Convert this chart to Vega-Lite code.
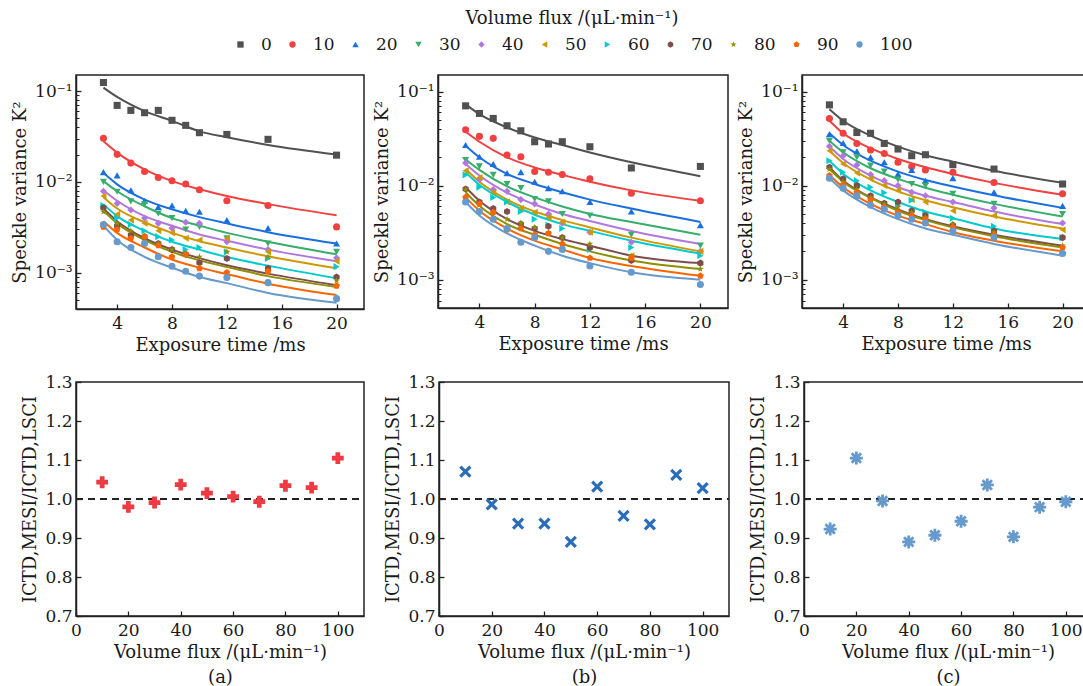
{
  "$schema": "https://vega.github.io/schema/vega-lite/v6.json",
  "padding": {"left": 10, "top": 10, "right": 0, "bottom": 0},
  "background": "white",
  "datasets": {
    "points": [
      {"panel":"a","flux":0,"t":3,"k2":0.124},{"panel":"a","flux":0,"t":4,"k2":0.0695},{"panel":"a","flux":0,"t":5,"k2":0.0612},{"panel":"a","flux":0,"t":6,"k2":0.0577},{"panel":"a","flux":0,"t":7,"k2":0.0612},{"panel":"a","flux":0,"t":8,"k2":0.0476},{"panel":"a","flux":0,"t":9,"k2":0.0419},{"panel":"a","flux":0,"t":10,"k2":0.0348},{"panel":"a","flux":0,"t":12,"k2":0.0333},{"panel":"a","flux":0,"t":15,"k2":0.0294},{"panel":"a","flux":0,"t":20,"k2":0.0197},
      {"panel":"a","flux":10,"t":3,"k2":0.0302},{"panel":"a","flux":10,"t":4,"k2":0.0201},{"panel":"a","flux":10,"t":5,"k2":0.0161},{"panel":"a","flux":10,"t":6,"k2":0.013},{"panel":"a","flux":10,"t":7,"k2":0.0112},{"panel":"a","flux":10,"t":8,"k2":0.0103},{"panel":"a","flux":10,"t":9,"k2":0.0095},{"panel":"a","flux":10,"t":10,"k2":0.0082},{"panel":"a","flux":10,"t":12,"k2":0.0062},{"panel":"a","flux":10,"t":15,"k2":0.0055},{"panel":"a","flux":10,"t":20,"k2":0.0032},
      {"panel":"a","flux":20,"t":3,"k2":0.0128},{"panel":"a","flux":20,"t":4,"k2":0.0118},{"panel":"a","flux":20,"t":5,"k2":0.0081},{"panel":"a","flux":20,"t":6,"k2":0.0062},{"panel":"a","flux":20,"t":7,"k2":0.0053},{"panel":"a","flux":20,"t":8,"k2":0.0055},{"panel":"a","flux":20,"t":9,"k2":0.0048},{"panel":"a","flux":20,"t":10,"k2":0.0047},{"panel":"a","flux":20,"t":12,"k2":0.0038},{"panel":"a","flux":20,"t":15,"k2":0.0031},{"panel":"a","flux":20,"t":20,"k2":0.0021},
      {"panel":"a","flux":30,"t":3,"k2":0.01},{"panel":"a","flux":30,"t":4,"k2":0.0078},{"panel":"a","flux":30,"t":5,"k2":0.0061},{"panel":"a","flux":30,"t":6,"k2":0.0057},{"panel":"a","flux":30,"t":7,"k2":0.0045},{"panel":"a","flux":30,"t":8,"k2":0.004},{"panel":"a","flux":30,"t":9,"k2":0.003},{"panel":"a","flux":30,"t":10,"k2":0.0032},{"panel":"a","flux":30,"t":12,"k2":0.0024},{"panel":"a","flux":30,"t":15,"k2":0.0021},{"panel":"a","flux":30,"t":20,"k2":0.0017},
      {"panel":"a","flux":40,"t":3,"k2":0.0079},{"panel":"a","flux":40,"t":4,"k2":0.0058},{"panel":"a","flux":40,"t":5,"k2":0.0049},{"panel":"a","flux":40,"t":6,"k2":0.004},{"panel":"a","flux":40,"t":7,"k2":0.0035},{"panel":"a","flux":40,"t":8,"k2":0.0031},{"panel":"a","flux":40,"t":9,"k2":0.0036},{"panel":"a","flux":40,"t":10,"k2":0.0035},{"panel":"a","flux":40,"t":12,"k2":0.0022},{"panel":"a","flux":40,"t":15,"k2":0.0018},{"panel":"a","flux":40,"t":20,"k2":0.00146},
      {"panel":"a","flux":50,"t":3,"k2":0.007},{"panel":"a","flux":50,"t":4,"k2":0.0044},{"panel":"a","flux":50,"t":5,"k2":0.0038},{"panel":"a","flux":50,"t":6,"k2":0.0035},{"panel":"a","flux":50,"t":7,"k2":0.0029},{"panel":"a","flux":50,"t":8,"k2":0.00275},{"panel":"a","flux":50,"t":9,"k2":0.0024},{"panel":"a","flux":50,"t":10,"k2":0.0023},{"panel":"a","flux":50,"t":12,"k2":0.0024},{"panel":"a","flux":50,"t":15,"k2":0.0017},{"panel":"a","flux":50,"t":20,"k2":0.00134},
      {"panel":"a","flux":60,"t":3,"k2":0.0055},{"panel":"a","flux":60,"t":4,"k2":0.004},{"panel":"a","flux":60,"t":5,"k2":0.0034},{"panel":"a","flux":60,"t":6,"k2":0.0029},{"panel":"a","flux":60,"t":7,"k2":0.0025},{"panel":"a","flux":60,"t":8,"k2":0.0023},{"panel":"a","flux":60,"t":9,"k2":0.0018},{"panel":"a","flux":60,"t":10,"k2":0.0019},{"panel":"a","flux":60,"t":12,"k2":0.0017},{"panel":"a","flux":60,"t":15,"k2":0.00144},{"panel":"a","flux":60,"t":20,"k2":0.00117},
      {"panel":"a","flux":70,"t":3,"k2":0.0052},{"panel":"a","flux":70,"t":4,"k2":0.0033},{"panel":"a","flux":70,"t":5,"k2":0.0026},{"panel":"a","flux":70,"t":6,"k2":0.0025},{"panel":"a","flux":70,"t":7,"k2":0.0021},{"panel":"a","flux":70,"t":8,"k2":0.0018},{"panel":"a","flux":70,"t":9,"k2":0.0016},{"panel":"a","flux":70,"t":10,"k2":0.00129},{"panel":"a","flux":70,"t":12,"k2":0.00144},{"panel":"a","flux":70,"t":15,"k2":0.00112},{"panel":"a","flux":70,"t":20,"k2":0.0009},
      {"panel":"a","flux":80,"t":3,"k2":0.0047},{"panel":"a","flux":80,"t":4,"k2":0.0035},{"panel":"a","flux":80,"t":5,"k2":0.0029},{"panel":"a","flux":80,"t":6,"k2":0.0022},{"panel":"a","flux":80,"t":7,"k2":0.0021},{"panel":"a","flux":80,"t":8,"k2":0.0018},{"panel":"a","flux":80,"t":9,"k2":0.0016},{"panel":"a","flux":80,"t":10,"k2":0.0015},{"panel":"a","flux":80,"t":12,"k2":0.0017},{"panel":"a","flux":80,"t":15,"k2":0.0015},{"panel":"a","flux":80,"t":20,"k2":0.00082},
      {"panel":"a","flux":90,"t":3,"k2":0.0032},{"panel":"a","flux":90,"t":4,"k2":0.003},{"panel":"a","flux":90,"t":5,"k2":0.0024},{"panel":"a","flux":90,"t":6,"k2":0.0025},{"panel":"a","flux":90,"t":7,"k2":0.002},{"panel":"a","flux":90,"t":8,"k2":0.0015},{"panel":"a","flux":90,"t":9,"k2":0.0016},{"panel":"a","flux":90,"t":10,"k2":0.00112},{"panel":"a","flux":90,"t":12,"k2":0.00101},{"panel":"a","flux":90,"t":15,"k2":0.00104},{"panel":"a","flux":90,"t":20,"k2":0.00072},
      {"panel":"a","flux":100,"t":3,"k2":0.0034},{"panel":"a","flux":100,"t":4,"k2":0.0022},{"panel":"a","flux":100,"t":5,"k2":0.0019},{"panel":"a","flux":100,"t":6,"k2":0.0021},{"panel":"a","flux":100,"t":7,"k2":0.0015},{"panel":"a","flux":100,"t":8,"k2":0.00118},{"panel":"a","flux":100,"t":9,"k2":0.00104},{"panel":"a","flux":100,"t":10,"k2":0.00092},{"panel":"a","flux":100,"t":12,"k2":0.00089},{"panel":"a","flux":100,"t":15,"k2":0.00078},{"panel":"a","flux":100,"t":20,"k2":0.00052},

      {"panel":"b","flux":0,"t":3,"k2":0.0705},{"panel":"b","flux":0,"t":4,"k2":0.0585},{"panel":"b","flux":0,"t":5,"k2":0.0518},{"panel":"b","flux":0,"t":6,"k2":0.0433},{"panel":"b","flux":0,"t":7,"k2":0.0383},{"panel":"b","flux":0,"t":8,"k2":0.0293},{"panel":"b","flux":0,"t":9,"k2":0.0277},{"panel":"b","flux":0,"t":10,"k2":0.0293},{"panel":"b","flux":0,"t":12,"k2":0.0259},{"panel":"b","flux":0,"t":15,"k2":0.0154},{"panel":"b","flux":0,"t":20,"k2":0.016},
      {"panel":"b","flux":10,"t":3,"k2":0.0393},{"panel":"b","flux":10,"t":4,"k2":0.0334},{"panel":"b","flux":10,"t":5,"k2":0.0318},{"panel":"b","flux":10,"t":6,"k2":0.0211},{"panel":"b","flux":10,"t":7,"k2":0.0203},{"panel":"b","flux":10,"t":8,"k2":0.0141},{"panel":"b","flux":10,"t":9,"k2":0.0139},{"panel":"b","flux":10,"t":10,"k2":0.0131},{"panel":"b","flux":10,"t":12,"k2":0.0118},{"panel":"b","flux":10,"t":15,"k2":0.0083},{"panel":"b","flux":10,"t":20,"k2":0.0069},
      {"panel":"b","flux":20,"t":3,"k2":0.027},{"panel":"b","flux":20,"t":4,"k2":0.0203},{"panel":"b","flux":20,"t":5,"k2":0.017},{"panel":"b","flux":20,"t":6,"k2":0.0136},{"panel":"b","flux":20,"t":7,"k2":0.0139},{"panel":"b","flux":20,"t":8,"k2":0.011},{"panel":"b","flux":20,"t":9,"k2":0.0094},{"panel":"b","flux":20,"t":10,"k2":0.0087},{"panel":"b","flux":20,"t":12,"k2":0.0067},{"panel":"b","flux":20,"t":15,"k2":0.0053},{"panel":"b","flux":20,"t":20,"k2":0.0038},
      {"panel":"b","flux":30,"t":3,"k2":0.0187},{"panel":"b","flux":30,"t":4,"k2":0.016},{"panel":"b","flux":30,"t":5,"k2":0.013},{"panel":"b","flux":30,"t":6,"k2":0.0104},{"panel":"b","flux":30,"t":7,"k2":0.0094},{"panel":"b","flux":30,"t":8,"k2":0.0072},{"panel":"b","flux":30,"t":9,"k2":0.0068},{"panel":"b","flux":30,"t":10,"k2":0.005},{"panel":"b","flux":30,"t":12,"k2":0.0048},{"panel":"b","flux":30,"t":15,"k2":0.003},{"panel":"b","flux":30,"t":20,"k2":0.0023},
      {"panel":"b","flux":40,"t":3,"k2":0.0174},{"panel":"b","flux":40,"t":4,"k2":0.0116},{"panel":"b","flux":40,"t":5,"k2":0.0091},{"panel":"b","flux":40,"t":6,"k2":0.0087},{"panel":"b","flux":40,"t":7,"k2":0.0071},{"panel":"b","flux":40,"t":8,"k2":0.0064},{"panel":"b","flux":40,"t":9,"k2":0.005},{"panel":"b","flux":40,"t":10,"k2":0.004},{"panel":"b","flux":40,"t":12,"k2":0.0032},{"panel":"b","flux":40,"t":15,"k2":0.0025},{"panel":"b","flux":40,"t":20,"k2":0.002},
      {"panel":"b","flux":50,"t":3,"k2":0.0144},{"panel":"b","flux":50,"t":4,"k2":0.0122},{"panel":"b","flux":50,"t":5,"k2":0.0085},{"panel":"b","flux":50,"t":6,"k2":0.0067},{"panel":"b","flux":50,"t":7,"k2":0.0057},{"panel":"b","flux":50,"t":8,"k2":0.0052},{"panel":"b","flux":50,"t":9,"k2":0.0046},{"panel":"b","flux":50,"t":10,"k2":0.0041},{"panel":"b","flux":50,"t":12,"k2":0.0032},{"panel":"b","flux":50,"t":15,"k2":0.0018},{"panel":"b","flux":50,"t":20,"k2":0.002},
      {"panel":"b","flux":60,"t":3,"k2":0.013},{"panel":"b","flux":60,"t":4,"k2":0.0096},{"panel":"b","flux":60,"t":5,"k2":0.0075},{"panel":"b","flux":60,"t":6,"k2":0.0067},{"panel":"b","flux":60,"t":7,"k2":0.0053},{"panel":"b","flux":60,"t":8,"k2":0.0044},{"panel":"b","flux":60,"t":9,"k2":0.0038},{"panel":"b","flux":60,"t":10,"k2":0.0035},{"panel":"b","flux":60,"t":12,"k2":0.0021},{"panel":"b","flux":60,"t":15,"k2":0.0022},{"panel":"b","flux":60,"t":20,"k2":0.0018},
      {"panel":"b","flux":70,"t":3,"k2":0.0092},{"panel":"b","flux":70,"t":4,"k2":0.0067},{"panel":"b","flux":70,"t":5,"k2":0.0057},{"panel":"b","flux":70,"t":6,"k2":0.0053},{"panel":"b","flux":70,"t":7,"k2":0.0039},{"panel":"b","flux":70,"t":8,"k2":0.0035},{"panel":"b","flux":70,"t":9,"k2":0.0037},{"panel":"b","flux":70,"t":10,"k2":0.0028},{"panel":"b","flux":70,"t":12,"k2":0.0022},{"panel":"b","flux":70,"t":15,"k2":0.0016},{"panel":"b","flux":70,"t":20,"k2":0.0015},
      {"panel":"b","flux":80,"t":3,"k2":0.0091},{"panel":"b","flux":80,"t":4,"k2":0.0062},{"panel":"b","flux":80,"t":5,"k2":0.0052},{"panel":"b","flux":80,"t":6,"k2":0.0044},{"panel":"b","flux":80,"t":7,"k2":0.004},{"panel":"b","flux":80,"t":8,"k2":0.0036},{"panel":"b","flux":80,"t":9,"k2":0.0032},{"panel":"b","flux":80,"t":10,"k2":0.0028},{"panel":"b","flux":80,"t":12,"k2":0.0024},{"panel":"b","flux":80,"t":15,"k2":0.0018},{"panel":"b","flux":80,"t":20,"k2":0.0013},
      {"panel":"b","flux":90,"t":3,"k2":0.0075},{"panel":"b","flux":90,"t":4,"k2":0.0064},{"panel":"b","flux":90,"t":5,"k2":0.0052},{"panel":"b","flux":90,"t":6,"k2":0.0034},{"panel":"b","flux":90,"t":7,"k2":0.0035},{"panel":"b","flux":90,"t":8,"k2":0.003},{"panel":"b","flux":90,"t":9,"k2":0.0031},{"panel":"b","flux":90,"t":10,"k2":0.0024},{"panel":"b","flux":90,"t":12,"k2":0.0017},{"panel":"b","flux":90,"t":15,"k2":0.0017},{"panel":"b","flux":90,"t":20,"k2":0.0011},
      {"panel":"b","flux":100,"t":3,"k2":0.0067},{"panel":"b","flux":100,"t":4,"k2":0.0053},{"panel":"b","flux":100,"t":5,"k2":0.0044},{"panel":"b","flux":100,"t":6,"k2":0.0035},{"panel":"b","flux":100,"t":7,"k2":0.0025},{"panel":"b","flux":100,"t":8,"k2":0.0028},{"panel":"b","flux":100,"t":9,"k2":0.002},{"panel":"b","flux":100,"t":10,"k2":0.0021},{"panel":"b","flux":100,"t":12,"k2":0.0014},{"panel":"b","flux":100,"t":15,"k2":0.0012},{"panel":"b","flux":100,"t":20,"k2":0.00089},

      {"panel":"c","flux":0,"t":3,"k2":0.0722},{"panel":"c","flux":0,"t":4,"k2":0.0477},{"panel":"c","flux":0,"t":5,"k2":0.0367},{"panel":"c","flux":0,"t":6,"k2":0.036},{"panel":"c","flux":0,"t":7,"k2":0.0281},{"panel":"c","flux":0,"t":8,"k2":0.0245},{"panel":"c","flux":0,"t":9,"k2":0.0208},{"panel":"c","flux":0,"t":10,"k2":0.0213},{"panel":"c","flux":0,"t":12,"k2":0.0167},{"panel":"c","flux":0,"t":15,"k2":0.015},{"panel":"c","flux":0,"t":20,"k2":0.0104},
      {"panel":"c","flux":10,"t":3,"k2":0.0518},{"panel":"c","flux":10,"t":4,"k2":0.036},{"panel":"c","flux":10,"t":5,"k2":0.0281},{"panel":"c","flux":10,"t":6,"k2":0.0239},{"panel":"c","flux":10,"t":7,"k2":0.022},{"panel":"c","flux":10,"t":8,"k2":0.0177},{"panel":"c","flux":10,"t":9,"k2":0.016},{"panel":"c","flux":10,"t":10,"k2":0.0147},{"panel":"c","flux":10,"t":12,"k2":0.0139},{"panel":"c","flux":10,"t":15,"k2":0.0108},{"panel":"c","flux":10,"t":20,"k2":0.0082},
      {"panel":"c","flux":20,"t":3,"k2":0.0353},{"panel":"c","flux":20,"t":4,"k2":0.0284},{"panel":"c","flux":20,"t":5,"k2":0.0232},{"panel":"c","flux":20,"t":6,"k2":0.02},{"panel":"c","flux":20,"t":7,"k2":0.0177},{"panel":"c","flux":20,"t":8,"k2":0.0133},{"panel":"c","flux":20,"t":9,"k2":0.0147},{"panel":"c","flux":20,"t":10,"k2":0.0113},{"panel":"c","flux":20,"t":12,"k2":0.012},{"panel":"c","flux":20,"t":15,"k2":0.0085},{"panel":"c","flux":20,"t":20,"k2":0.0061},
      {"panel":"c","flux":30,"t":3,"k2":0.03},{"panel":"c","flux":30,"t":4,"k2":0.0226},{"panel":"c","flux":30,"t":5,"k2":0.02},{"panel":"c","flux":30,"t":6,"k2":0.0163},{"panel":"c","flux":30,"t":7,"k2":0.0141},{"panel":"c","flux":30,"t":8,"k2":0.0116},{"panel":"c","flux":30,"t":9,"k2":0.0104},{"panel":"c","flux":30,"t":10,"k2":0.01},{"panel":"c","flux":30,"t":12,"k2":0.0082},{"panel":"c","flux":30,"t":15,"k2":0.0064},{"panel":"c","flux":30,"t":20,"k2":0.005},
      {"panel":"c","flux":40,"t":3,"k2":0.0262},{"panel":"c","flux":40,"t":4,"k2":0.0208},{"panel":"c","flux":40,"t":5,"k2":0.0166},{"panel":"c","flux":40,"t":6,"k2":0.0131},{"panel":"c","flux":40,"t":7,"k2":0.0113},{"panel":"c","flux":40,"t":8,"k2":0.01},{"panel":"c","flux":40,"t":9,"k2":0.0085},{"panel":"c","flux":40,"t":10,"k2":0.0078},{"panel":"c","flux":40,"t":12,"k2":0.0067},{"panel":"c","flux":40,"t":15,"k2":0.0058},{"panel":"c","flux":40,"t":20,"k2":0.004},
      {"panel":"c","flux":50,"t":3,"k2":0.0235},{"panel":"c","flux":50,"t":4,"k2":0.017},{"panel":"c","flux":50,"t":5,"k2":0.0136},{"panel":"c","flux":50,"t":6,"k2":0.0118},{"panel":"c","flux":50,"t":7,"k2":0.01},{"panel":"c","flux":50,"t":8,"k2":0.0089},{"panel":"c","flux":50,"t":9,"k2":0.0071},{"panel":"c","flux":50,"t":10,"k2":0.0067},{"panel":"c","flux":50,"t":12,"k2":0.0054},{"panel":"c","flux":50,"t":15,"k2":0.0048},{"panel":"c","flux":50,"t":20,"k2":0.0034},
      {"panel":"c","flux":60,"t":3,"k2":0.0184},{"panel":"c","flux":60,"t":4,"k2":0.0139},{"panel":"c","flux":60,"t":5,"k2":0.0113},{"panel":"c","flux":60,"t":6,"k2":0.0096},{"panel":"c","flux":60,"t":7,"k2":0.0084},{"panel":"c","flux":60,"t":8,"k2":0.0062},{"panel":"c","flux":60,"t":9,"k2":0.007},{"panel":"c","flux":60,"t":10,"k2":0.0052},{"panel":"c","flux":60,"t":12,"k2":0.0045},{"panel":"c","flux":60,"t":15,"k2":0.0037},{"panel":"c","flux":60,"t":20,"k2":0.0028},
      {"panel":"c","flux":70,"t":3,"k2":0.0157},{"panel":"c","flux":70,"t":4,"k2":0.0118},{"panel":"c","flux":70,"t":5,"k2":0.01},{"panel":"c","flux":70,"t":6,"k2":0.0078},{"panel":"c","flux":70,"t":7,"k2":0.0065},{"panel":"c","flux":70,"t":8,"k2":0.0067},{"panel":"c","flux":70,"t":9,"k2":0.0054},{"panel":"c","flux":70,"t":10,"k2":0.0048},{"panel":"c","flux":70,"t":12,"k2":0.0038},{"panel":"c","flux":70,"t":15,"k2":0.0033},{"panel":"c","flux":70,"t":20,"k2":0.0028},
      {"panel":"c","flux":80,"t":3,"k2":0.015},{"panel":"c","flux":80,"t":4,"k2":0.011},{"panel":"c","flux":80,"t":5,"k2":0.0092},{"panel":"c","flux":80,"t":6,"k2":0.0075},{"panel":"c","flux":80,"t":7,"k2":0.0064},{"panel":"c","flux":80,"t":8,"k2":0.0059},{"panel":"c","flux":80,"t":9,"k2":0.0052},{"panel":"c","flux":80,"t":10,"k2":0.0046},{"panel":"c","flux":80,"t":12,"k2":0.0039},{"panel":"c","flux":80,"t":15,"k2":0.0032},{"panel":"c","flux":80,"t":20,"k2":0.0023},
      {"panel":"c","flux":90,"t":3,"k2":0.0128},{"panel":"c","flux":90,"t":4,"k2":0.0102},{"panel":"c","flux":90,"t":5,"k2":0.0085},{"panel":"c","flux":90,"t":6,"k2":0.0071},{"panel":"c","flux":90,"t":7,"k2":0.0059},{"panel":"c","flux":90,"t":8,"k2":0.0052},{"panel":"c","flux":90,"t":9,"k2":0.0048},{"panel":"c","flux":90,"t":10,"k2":0.0044},{"panel":"c","flux":90,"t":12,"k2":0.0036},{"panel":"c","flux":90,"t":15,"k2":0.003},{"panel":"c","flux":90,"t":20,"k2":0.0022},
      {"panel":"c","flux":100,"t":3,"k2":0.012},{"panel":"c","flux":100,"t":4,"k2":0.0094},{"panel":"c","flux":100,"t":5,"k2":0.0078},{"panel":"c","flux":100,"t":6,"k2":0.0062},{"panel":"c","flux":100,"t":7,"k2":0.0056},{"panel":"c","flux":100,"t":8,"k2":0.0048},{"panel":"c","flux":100,"t":9,"k2":0.0044},{"panel":"c","flux":100,"t":10,"k2":0.004},{"panel":"c","flux":100,"t":12,"k2":0.0033},{"panel":"c","flux":100,"t":15,"k2":0.0028},{"panel":"c","flux":100,"t":20,"k2":0.0019}
    ],
    "fits": [
      {"panel":"a","flux":0,"t":3,"fit":0.109},{"panel":"a","flux":0,"t":4,"fit":0.086},{"panel":"a","flux":0,"t":6,"fit":0.06},{"panel":"a","flux":0,"t":8,"fit":0.047},{"panel":"a","flux":0,"t":10,"fit":0.036},{"panel":"a","flux":0,"t":12,"fit":0.031},{"panel":"a","flux":0,"t":15,"fit":0.0255},{"panel":"a","flux":0,"t":20,"fit":0.02},
      {"panel":"a","flux":10,"t":3,"fit":0.028},{"panel":"a","flux":10,"t":4,"fit":0.021},{"panel":"a","flux":10,"t":6,"fit":0.0137},{"panel":"a","flux":10,"t":8,"fit":0.0102},{"panel":"a","flux":10,"t":10,"fit":0.0083},{"panel":"a","flux":10,"t":12,"fit":0.007},{"panel":"a","flux":10,"t":15,"fit":0.0057},{"panel":"a","flux":10,"t":20,"fit":0.0043},
      {"panel":"a","flux":20,"t":3,"fit":0.0126},{"panel":"a","flux":20,"t":4,"fit":0.0094},{"panel":"a","flux":20,"t":6,"fit":0.0064},{"panel":"a","flux":20,"t":8,"fit":0.005},{"panel":"a","flux":20,"t":10,"fit":0.0041},{"panel":"a","flux":20,"t":12,"fit":0.0035},{"panel":"a","flux":20,"t":15,"fit":0.0028},{"panel":"a","flux":20,"t":20,"fit":0.0021},
      {"panel":"a","flux":30,"t":3,"fit":0.0102},{"panel":"a","flux":30,"t":4,"fit":0.0079},{"panel":"a","flux":30,"t":6,"fit":0.0054},{"panel":"a","flux":30,"t":8,"fit":0.004},{"panel":"a","flux":30,"t":10,"fit":0.0033},{"panel":"a","flux":30,"t":12,"fit":0.00275},{"panel":"a","flux":30,"t":15,"fit":0.0022},{"panel":"a","flux":30,"t":20,"fit":0.0016},
      {"panel":"a","flux":40,"t":3,"fit":0.0081},{"panel":"a","flux":40,"t":4,"fit":0.0062},{"panel":"a","flux":40,"t":6,"fit":0.0042},{"panel":"a","flux":40,"t":8,"fit":0.0033},{"panel":"a","flux":40,"t":10,"fit":0.00264},{"panel":"a","flux":40,"t":12,"fit":0.00225},{"panel":"a","flux":40,"t":15,"fit":0.0018},{"panel":"a","flux":40,"t":20,"fit":0.00134},
      {"panel":"a","flux":50,"t":3,"fit":0.0068},{"panel":"a","flux":50,"t":4,"fit":0.0051},{"panel":"a","flux":50,"t":6,"fit":0.0036},{"panel":"a","flux":50,"t":8,"fit":0.00275},{"panel":"a","flux":50,"t":10,"fit":0.00223},{"panel":"a","flux":50,"t":12,"fit":0.0019},{"panel":"a","flux":50,"t":15,"fit":0.00152},{"panel":"a","flux":50,"t":20,"fit":0.00112},
      {"panel":"a","flux":60,"t":3,"fit":0.0057},{"panel":"a","flux":60,"t":4,"fit":0.0042},{"panel":"a","flux":60,"t":6,"fit":0.0029},{"panel":"a","flux":60,"t":8,"fit":0.0022},{"panel":"a","flux":60,"t":10,"fit":0.0018},{"panel":"a","flux":60,"t":12,"fit":0.00149},{"panel":"a","flux":60,"t":15,"fit":0.0012},{"panel":"a","flux":60,"t":20,"fit":0.00087},
      {"panel":"a","flux":70,"t":3,"fit":0.0051},{"panel":"a","flux":70,"t":4,"fit":0.0037},{"panel":"a","flux":70,"t":6,"fit":0.0024},{"panel":"a","flux":70,"t":8,"fit":0.0018},{"panel":"a","flux":70,"t":10,"fit":0.00145},{"panel":"a","flux":70,"t":12,"fit":0.00121},{"panel":"a","flux":70,"t":15,"fit":0.00098},{"panel":"a","flux":70,"t":20,"fit":0.00073},
      {"panel":"a","flux":80,"t":3,"fit":0.0048},{"panel":"a","flux":80,"t":4,"fit":0.0035},{"panel":"a","flux":80,"t":6,"fit":0.0023},{"panel":"a","flux":80,"t":8,"fit":0.0017},{"panel":"a","flux":80,"t":10,"fit":0.00137},{"panel":"a","flux":80,"t":12,"fit":0.00116},{"panel":"a","flux":80,"t":15,"fit":0.00092},{"panel":"a","flux":80,"t":20,"fit":0.0007},
      {"panel":"a","flux":90,"t":3,"fit":0.0037},{"panel":"a","flux":90,"t":4,"fit":0.00275},{"panel":"a","flux":90,"t":6,"fit":0.0019},{"panel":"a","flux":90,"t":8,"fit":0.0014},{"panel":"a","flux":90,"t":10,"fit":0.00114},{"panel":"a","flux":90,"t":12,"fit":0.00097},{"panel":"a","flux":90,"t":15,"fit":0.00076},{"panel":"a","flux":90,"t":20,"fit":0.00057},
      {"panel":"a","flux":100,"t":3,"fit":0.0033},{"panel":"a","flux":100,"t":4,"fit":0.0023},{"panel":"a","flux":100,"t":6,"fit":0.0015},{"panel":"a","flux":100,"t":8,"fit":0.00114},{"panel":"a","flux":100,"t":10,"fit":0.0009},{"panel":"a","flux":100,"t":12,"fit":0.00077},{"panel":"a","flux":100,"t":15,"fit":0.0006},{"panel":"a","flux":100,"t":20,"fit":0.00047},

      {"panel":"b","flux":0,"t":3,"fit":0.073},{"panel":"b","flux":0,"t":4,"fit":0.0575},{"panel":"b","flux":0,"t":6,"fit":0.0415},{"panel":"b","flux":0,"t":8,"fit":0.0325},{"panel":"b","flux":0,"t":10,"fit":0.027},{"panel":"b","flux":0,"t":12,"fit":0.0225},{"panel":"b","flux":0,"t":15,"fit":0.0177},{"panel":"b","flux":0,"t":20,"fit":0.0126},
      {"panel":"b","flux":10,"t":3,"fit":0.0374},{"panel":"b","flux":10,"t":4,"fit":0.0293},{"panel":"b","flux":10,"t":6,"fit":0.02},{"panel":"b","flux":10,"t":8,"fit":0.0156},{"panel":"b","flux":10,"t":10,"fit":0.013},{"panel":"b","flux":10,"t":12,"fit":0.011},{"panel":"b","flux":10,"t":15,"fit":0.0089},{"panel":"b","flux":10,"t":20,"fit":0.0069},
      {"panel":"b","flux":20,"t":3,"fit":0.0266},{"panel":"b","flux":20,"t":4,"fit":0.02},{"panel":"b","flux":20,"t":6,"fit":0.0133},{"panel":"b","flux":20,"t":8,"fit":0.0104},{"panel":"b","flux":20,"t":10,"fit":0.0085},{"panel":"b","flux":20,"t":12,"fit":0.0071},{"panel":"b","flux":20,"t":15,"fit":0.0057},{"panel":"b","flux":20,"t":20,"fit":0.0041},
      {"panel":"b","flux":30,"t":3,"fit":0.019},{"panel":"b","flux":30,"t":4,"fit":0.0147},{"panel":"b","flux":30,"t":6,"fit":0.0098},{"panel":"b","flux":30,"t":8,"fit":0.0075},{"panel":"b","flux":30,"t":10,"fit":0.006},{"panel":"b","flux":30,"t":12,"fit":0.005},{"panel":"b","flux":30,"t":15,"fit":0.0041},{"panel":"b","flux":30,"t":20,"fit":0.003},
      {"panel":"b","flux":40,"t":3,"fit":0.017},{"panel":"b","flux":40,"t":4,"fit":0.0128},{"panel":"b","flux":40,"t":6,"fit":0.0084},{"panel":"b","flux":40,"t":8,"fit":0.0063},{"panel":"b","flux":40,"t":10,"fit":0.005},{"panel":"b","flux":40,"t":12,"fit":0.0042},{"panel":"b","flux":40,"t":15,"fit":0.0033},{"panel":"b","flux":40,"t":20,"fit":0.0024},
      {"panel":"b","flux":50,"t":3,"fit":0.015},{"panel":"b","flux":50,"t":4,"fit":0.011},{"panel":"b","flux":50,"t":6,"fit":0.0071},{"panel":"b","flux":50,"t":8,"fit":0.0053},{"panel":"b","flux":50,"t":10,"fit":0.0043},{"panel":"b","flux":50,"t":12,"fit":0.0036},{"panel":"b","flux":50,"t":15,"fit":0.0028},{"panel":"b","flux":50,"t":20,"fit":0.002},
      {"panel":"b","flux":60,"t":3,"fit":0.0139},{"panel":"b","flux":60,"t":4,"fit":0.0102},{"panel":"b","flux":60,"t":6,"fit":0.0067},{"panel":"b","flux":60,"t":8,"fit":0.0049},{"panel":"b","flux":60,"t":10,"fit":0.0039},{"panel":"b","flux":60,"t":12,"fit":0.0033},{"panel":"b","flux":60,"t":15,"fit":0.0026},{"panel":"b","flux":60,"t":20,"fit":0.0019},
      {"panel":"b","flux":70,"t":3,"fit":0.0096},{"panel":"b","flux":70,"t":4,"fit":0.0069},{"panel":"b","flux":70,"t":6,"fit":0.0044},{"panel":"b","flux":70,"t":8,"fit":0.0033},{"panel":"b","flux":70,"t":10,"fit":0.0027},{"panel":"b","flux":70,"t":12,"fit":0.0023},{"panel":"b","flux":70,"t":15,"fit":0.0018},{"panel":"b","flux":70,"t":20,"fit":0.0015},
      {"panel":"b","flux":80,"t":3,"fit":0.0085},{"panel":"b","flux":80,"t":4,"fit":0.0061},{"panel":"b","flux":80,"t":6,"fit":0.0039},{"panel":"b","flux":80,"t":8,"fit":0.003},{"panel":"b","flux":80,"t":10,"fit":0.0024},{"panel":"b","flux":80,"t":12,"fit":0.002},{"panel":"b","flux":80,"t":15,"fit":0.0016},{"panel":"b","flux":80,"t":20,"fit":0.0013},
      {"panel":"b","flux":90,"t":3,"fit":0.0075},{"panel":"b","flux":90,"t":4,"fit":0.0054},{"panel":"b","flux":90,"t":6,"fit":0.0035},{"panel":"b","flux":90,"t":8,"fit":0.0026},{"panel":"b","flux":90,"t":10,"fit":0.0021},{"panel":"b","flux":90,"t":12,"fit":0.0017},{"panel":"b","flux":90,"t":15,"fit":0.0014},{"panel":"b","flux":90,"t":20,"fit":0.0011},
      {"panel":"b","flux":100,"t":3,"fit":0.0067},{"panel":"b","flux":100,"t":4,"fit":0.0048},{"panel":"b","flux":100,"t":6,"fit":0.0031},{"panel":"b","flux":100,"t":8,"fit":0.0023},{"panel":"b","flux":100,"t":10,"fit":0.0018},{"panel":"b","flux":100,"t":12,"fit":0.0015},{"panel":"b","flux":100,"t":15,"fit":0.0012},{"panel":"b","flux":100,"t":20,"fit":0.001},

      {"panel":"c","flux":0,"t":3,"fit":0.065},{"panel":"c","flux":0,"t":4,"fit":0.049},{"panel":"c","flux":0,"t":6,"fit":0.034},{"panel":"c","flux":0,"t":8,"fit":0.026},{"panel":"c","flux":0,"t":10,"fit":0.021},{"panel":"c","flux":0,"t":12,"fit":0.018},{"panel":"c","flux":0,"t":15,"fit":0.0144},{"panel":"c","flux":0,"t":20,"fit":0.0107},
      {"panel":"c","flux":10,"t":3,"fit":0.049},{"panel":"c","flux":10,"t":4,"fit":0.036},{"panel":"c","flux":10,"t":6,"fit":0.025},{"panel":"c","flux":10,"t":8,"fit":0.0192},{"panel":"c","flux":10,"t":10,"fit":0.0157},{"panel":"c","flux":10,"t":12,"fit":0.0133},{"panel":"c","flux":10,"t":15,"fit":0.0107},{"panel":"c","flux":10,"t":20,"fit":0.008},
      {"panel":"c","flux":20,"t":3,"fit":0.036},{"panel":"c","flux":20,"t":4,"fit":0.027},{"panel":"c","flux":20,"t":6,"fit":0.0184},{"panel":"c","flux":20,"t":8,"fit":0.0141},{"panel":"c","flux":20,"t":10,"fit":0.0115},{"panel":"c","flux":20,"t":12,"fit":0.0098},{"panel":"c","flux":20,"t":15,"fit":0.0079},{"panel":"c","flux":20,"t":20,"fit":0.0058},
      {"panel":"c","flux":30,"t":3,"fit":0.03},{"panel":"c","flux":30,"t":4,"fit":0.0226},{"panel":"c","flux":30,"t":6,"fit":0.0153},{"panel":"c","flux":30,"t":8,"fit":0.0118},{"panel":"c","flux":30,"t":10,"fit":0.0095},{"panel":"c","flux":30,"t":12,"fit":0.008},{"panel":"c","flux":30,"t":15,"fit":0.0064},{"panel":"c","flux":30,"t":20,"fit":0.0047},
      {"panel":"c","flux":40,"t":3,"fit":0.026},{"panel":"c","flux":40,"t":4,"fit":0.0192},{"panel":"c","flux":40,"t":6,"fit":0.0128},{"panel":"c","flux":40,"t":8,"fit":0.0096},{"panel":"c","flux":40,"t":10,"fit":0.0078},{"panel":"c","flux":40,"t":12,"fit":0.0067},{"panel":"c","flux":40,"t":15,"fit":0.0053},{"panel":"c","flux":40,"t":20,"fit":0.0039},
      {"panel":"c","flux":50,"t":3,"fit":0.0235},{"panel":"c","flux":50,"t":4,"fit":0.0174},{"panel":"c","flux":50,"t":6,"fit":0.0116},{"panel":"c","flux":50,"t":8,"fit":0.0087},{"panel":"c","flux":50,"t":10,"fit":0.007},{"panel":"c","flux":50,"t":12,"fit":0.0059},{"panel":"c","flux":50,"t":15,"fit":0.0047},{"panel":"c","flux":50,"t":20,"fit":0.0035},
      {"panel":"c","flux":60,"t":3,"fit":0.0184},{"panel":"c","flux":60,"t":4,"fit":0.0134},{"panel":"c","flux":60,"t":6,"fit":0.0089},{"panel":"c","flux":60,"t":8,"fit":0.0067},{"panel":"c","flux":60,"t":10,"fit":0.0053},{"panel":"c","flux":60,"t":12,"fit":0.0045},{"panel":"c","flux":60,"t":15,"fit":0.0035},{"panel":"c","flux":60,"t":20,"fit":0.0027},
      {"panel":"c","flux":70,"t":3,"fit":0.0157},{"panel":"c","flux":70,"t":4,"fit":0.0113},{"panel":"c","flux":70,"t":6,"fit":0.0075},{"panel":"c","flux":70,"t":8,"fit":0.0056},{"panel":"c","flux":70,"t":10,"fit":0.0044},{"panel":"c","flux":70,"t":12,"fit":0.0037},{"panel":"c","flux":70,"t":15,"fit":0.003},{"panel":"c","flux":70,"t":20,"fit":0.0023},
      {"panel":"c","flux":80,"t":3,"fit":0.015},{"panel":"c","flux":80,"t":4,"fit":0.011},{"panel":"c","flux":80,"t":6,"fit":0.0074},{"panel":"c","flux":80,"t":8,"fit":0.0054},{"panel":"c","flux":80,"t":10,"fit":0.0043},{"panel":"c","flux":80,"t":12,"fit":0.0036},{"panel":"c","flux":80,"t":15,"fit":0.0029},{"panel":"c","flux":80,"t":20,"fit":0.0022},
      {"panel":"c","flux":90,"t":3,"fit":0.013},{"panel":"c","flux":90,"t":4,"fit":0.0096},{"panel":"c","flux":90,"t":6,"fit":0.0064},{"panel":"c","flux":90,"t":8,"fit":0.0048},{"panel":"c","flux":90,"t":10,"fit":0.0039},{"panel":"c","flux":90,"t":12,"fit":0.0032},{"panel":"c","flux":90,"t":15,"fit":0.0026},{"panel":"c","flux":90,"t":20,"fit":0.002},
      {"panel":"c","flux":100,"t":3,"fit":0.012},{"panel":"c","flux":100,"t":4,"fit":0.0089},{"panel":"c","flux":100,"t":6,"fit":0.0059},{"panel":"c","flux":100,"t":8,"fit":0.0044},{"panel":"c","flux":100,"t":10,"fit":0.0035},{"panel":"c","flux":100,"t":12,"fit":0.003},{"panel":"c","flux":100,"t":15,"fit":0.0024},{"panel":"c","flux":100,"t":20,"fit":0.0018}
    ],
    "ratios": [
      {"panel":"a","flux":10,"ratio":1.043},{"panel":"a","flux":20,"ratio":0.98},{"panel":"a","flux":30,"ratio":0.991},{"panel":"a","flux":40,"ratio":1.037},{"panel":"a","flux":50,"ratio":1.015},{"panel":"a","flux":60,"ratio":1.006},{"panel":"a","flux":70,"ratio":0.993},{"panel":"a","flux":80,"ratio":1.034},{"panel":"a","flux":90,"ratio":1.029},{"panel":"a","flux":100,"ratio":1.105},
      {"panel":"b","flux":10,"ratio":1.07},{"panel":"b","flux":20,"ratio":0.986},{"panel":"b","flux":30,"ratio":0.937},{"panel":"b","flux":40,"ratio":0.937},{"panel":"b","flux":50,"ratio":0.89},{"panel":"b","flux":60,"ratio":1.032},{"panel":"b","flux":70,"ratio":0.957},{"panel":"b","flux":80,"ratio":0.935},{"panel":"b","flux":90,"ratio":1.062},{"panel":"b","flux":100,"ratio":1.028},
      {"panel":"c","flux":10,"ratio":0.923},{"panel":"c","flux":20,"ratio":1.105},{"panel":"c","flux":30,"ratio":0.995},{"panel":"c","flux":40,"ratio":0.89},{"panel":"c","flux":50,"ratio":0.907},{"panel":"c","flux":60,"ratio":0.943},{"panel":"c","flux":70,"ratio":1.036},{"panel":"c","flux":80,"ratio":0.903},{"panel":"c","flux":90,"ratio":0.979},{"panel":"c","flux":100,"ratio":0.993}
    ],
    "reference": [{"ratio": 1.0}]
  },
  "vconcat": [
    {
      "hconcat": [
        {
          "width": 288, "height": 234,
          "resolve": {"scale": {"y": "shared"}, "axis": {"y": "independent"}},
          "layer": [
            {
              "data": {"name": "fits"},
              "transform": [{"filter": "datum.panel === 'a'"}],
              "mark": {"type": "line", "interpolate": "monotone", "strokeWidth": 2, "clip": true},
              "encoding": {
                "x": {"field": "t", "type": "quantitative", "scale": {"domain": [1, 22], "nice": false}, "axis": {"values": [4, 8, 12, 16, 20], "title": "Exposure time /ms"}},
                "y": {"field": "fit", "type": "quantitative", "scale": {"type": "log", "domain": [0.0004, 0.15], "nice": false}, "axis": {"values": [0.001, 0.01, 0.1], "labelExpr": "datum.value > 0.05 ? '10⁻¹' : datum.value > 0.005 ? '10⁻²' : '10⁻³'", "title": "Speckle variance K²"}},
                "stroke": {"field": "flux", "type": "ordinal", "scale": {"range": ["#515151", "#F14040", "#1A6FDF", "#37AD6B", "#B177DE", "#CC9900", "#00CBCC", "#7D4E4E", "#8E8E00", "#FB6501", "#6699CC"]}, "legend": null}
              }
            },
            {
              "data": {"name": "points"},
              "transform": [{"filter": "datum.panel === 'a'"}],
              "mark": {"type": "point", "filled": true, "size": 50, "opacity": 1},
              "encoding": {
                "x": {"field": "t", "type": "quantitative"},
                "y": {"field": "k2", "type": "quantitative", "axis": {"orient": "left", "values": [0.0004, 0.0005, 0.0006, 0.0007, 0.0008, 0.0009, 0.002, 0.003, 0.004, 0.005, 0.006, 0.007, 0.008, 0.009, 0.02, 0.03, 0.04, 0.05, 0.06, 0.07, 0.08, 0.09], "labels": false, "domain": false, "title": null, "tickSize": -3, "tickWidth": 1}},
                "color": {"field": "flux", "type": "ordinal", "title": "Volume flux /(μL·min⁻¹)", "scale": {"range": ["#515151", "#F14040", "#1A6FDF", "#37AD6B", "#B177DE", "#CC9900", "#00CBCC", "#7D4E4E", "#8E8E00", "#FB6501", "#6699CC"]}},
                "shape": {"field": "flux", "type": "ordinal", "title": "Volume flux /(μL·min⁻¹)", "scale": {"range": ["square", "circle", "triangle-up", "triangle-down", "diamond", "triangle-left", "triangle-right", "M0,-1L0.866,-0.5L0.866,0.5L0,1L-0.866,0.5L-0.866,-0.5Z", "M0,-1L0.235,-0.324L0.951,-0.309L0.38,0.124L0.588,0.809L0,0.4L-0.588,0.809L-0.38,0.124L-0.951,-0.309L-0.235,-0.324Z", "M0,-1L0.951,-0.309L0.588,0.809L-0.588,0.809L-0.951,-0.309Z", "circle"]}}
              }
            }
          ]
        },
        {
          "width": 290, "height": 233,
          "resolve": {"scale": {"y": "shared"}, "axis": {"y": "independent"}},
          "layer": [
            {
              "data": {"name": "fits"},
              "transform": [{"filter": "datum.panel === 'b'"}],
              "mark": {"type": "line", "interpolate": "monotone", "strokeWidth": 2, "clip": true},
              "encoding": {
                "x": {"field": "t", "type": "quantitative", "scale": {"domain": [1, 22], "nice": false}, "axis": {"values": [4, 8, 12, 16, 20], "title": "Exposure time /ms"}},
                "y": {"field": "fit", "type": "quantitative", "scale": {"type": "log", "domain": [0.0005, 0.15], "nice": false}, "axis": {"values": [0.001, 0.01, 0.1], "labelExpr": "datum.value > 0.05 ? '10⁻¹' : datum.value > 0.005 ? '10⁻²' : '10⁻³'", "title": "Speckle variance K²"}},
                "stroke": {"field": "flux", "type": "ordinal", "legend": null}
              }
            },
            {
              "data": {"name": "points"},
              "transform": [{"filter": "datum.panel === 'b'"}],
              "mark": {"type": "point", "filled": true, "size": 50, "opacity": 1},
              "encoding": {
                "x": {"field": "t", "type": "quantitative"},
                "y": {"field": "k2", "type": "quantitative", "axis": {"orient": "left", "values": [0.0005, 0.0006, 0.0007, 0.0008, 0.0009, 0.002, 0.003, 0.004, 0.005, 0.006, 0.007, 0.008, 0.009, 0.02, 0.03, 0.04, 0.05, 0.06, 0.07, 0.08, 0.09], "labels": false, "domain": false, "title": null, "tickSize": -3, "tickWidth": 1}},
                "color": {"field": "flux", "type": "ordinal", "title": "Volume flux /(μL·min⁻¹)"},
                "shape": {"field": "flux", "type": "ordinal", "title": "Volume flux /(μL·min⁻¹)"}
              }
            }
          ]
        },
        {
          "width": 288, "height": 233,
          "resolve": {"scale": {"y": "shared"}, "axis": {"y": "independent"}},
          "layer": [
            {
              "data": {"name": "fits"},
              "transform": [{"filter": "datum.panel === 'c'"}],
              "mark": {"type": "line", "interpolate": "monotone", "strokeWidth": 2, "clip": true},
              "encoding": {
                "x": {"field": "t", "type": "quantitative", "scale": {"domain": [1, 22], "nice": false}, "axis": {"values": [4, 8, 12, 16, 20], "title": "Exposure time /ms"}},
                "y": {"field": "fit", "type": "quantitative", "scale": {"type": "log", "domain": [0.0005, 0.15], "nice": false}, "axis": {"values": [0.001, 0.01, 0.1], "labelExpr": "datum.value > 0.05 ? '10⁻¹' : datum.value > 0.005 ? '10⁻²' : '10⁻³'", "title": "Speckle variance K²"}},
                "stroke": {"field": "flux", "type": "ordinal", "legend": null}
              }
            },
            {
              "data": {"name": "points"},
              "transform": [{"filter": "datum.panel === 'c'"}],
              "mark": {"type": "point", "filled": true, "size": 50, "opacity": 1},
              "encoding": {
                "x": {"field": "t", "type": "quantitative"},
                "y": {"field": "k2", "type": "quantitative", "axis": {"orient": "left", "values": [0.0005, 0.0006, 0.0007, 0.0008, 0.0009, 0.002, 0.003, 0.004, 0.005, 0.006, 0.007, 0.008, 0.009, 0.02, 0.03, 0.04, 0.05, 0.06, 0.07, 0.08, 0.09], "labels": false, "domain": false, "title": null, "tickSize": -3, "tickWidth": 1}},
                "color": {"field": "flux", "type": "ordinal", "title": "Volume flux /(μL·min⁻¹)"},
                "shape": {"field": "flux", "type": "ordinal", "title": "Volume flux /(μL·min⁻¹)"}
              }
            }
          ]
        }
      ],
      "spacing": 7
    },
    {
      "hconcat": [
        {
          "width": 288, "height": 234,
          "encoding": {
            "x": {"field": "flux", "type": "quantitative", "scale": {"domain": [0, 110], "nice": false}, "axis": {"values": [0, 20, 40, 60, 80, 100], "title": ["Volume flux /(μL·min⁻¹)", "(a)"]}},
            "y": {"field": "ratio", "type": "quantitative", "scale": {"domain": [0.7, 1.3], "nice": false, "zero": false}, "axis": {"values": [0.7, 0.8, 0.9, 1.0, 1.1, 1.2, 1.3], "format": ".1f", "labelOverlap": false, "title": "ICTD,MESI/ICTD,LSCI"}}
          },
          "layer": [
            {
              "data": {"name": "reference"},
              "mark": {"type": "rule", "strokeDash": [7, 5], "strokeWidth": 2, "color": "#222"},
              "encoding": {"x": {"value": 0}, "x2": {"value": "width"}}
            },
            {
              "data": {"name": "ratios"},
              "transform": [{"filter": "datum.panel === 'a'"}],
              "mark": {"type": "point", "shape": "cross", "filled": true, "size": 140, "color": "#EE3A43", "opacity": 1},
              "encoding": {}
            }
          ]
        },
        {
          "width": 290, "height": 234,
          "encoding": {
            "x": {"field": "flux", "type": "quantitative", "scale": {"domain": [0, 110], "nice": false}, "axis": {"values": [0, 20, 40, 60, 80, 100], "title": ["Volume flux /(μL·min⁻¹)", "(b)"]}},
            "y": {"field": "ratio", "type": "quantitative", "scale": {"domain": [0.7, 1.3], "nice": false, "zero": false}, "axis": {"values": [0.7, 0.8, 0.9, 1.0, 1.1, 1.2, 1.3], "format": ".1f", "labelOverlap": false, "title": "ICTD,MESI/ICTD,LSCI"}}
          },
          "layer": [
            {
              "data": {"name": "reference"},
              "mark": {"type": "rule", "strokeDash": [7, 5], "strokeWidth": 2, "color": "#222"},
              "encoding": {"x": {"value": 0}, "x2": {"value": "width"}}
            },
            {
              "data": {"name": "ratios"},
              "transform": [{"filter": "datum.panel === 'b'"}],
              "mark": {"type": "point", "shape": "M-1,-1L1,1M-1,1L1,-1", "filled": false, "size": 100, "strokeWidth": 3.2, "color": "#2B6DB8", "opacity": 1},
              "encoding": {}
            }
          ]
        },
        {
          "width": 288, "height": 234,
          "encoding": {
            "x": {"field": "flux", "type": "quantitative", "scale": {"domain": [0, 110], "nice": false}, "axis": {"values": [0, 20, 40, 60, 80, 100], "title": ["Volume flux /(μL·min⁻¹)", "(c)"]}},
            "y": {"field": "ratio", "type": "quantitative", "scale": {"domain": [0.7, 1.3], "nice": false, "zero": false}, "axis": {"values": [0.7, 0.8, 0.9, 1.0, 1.1, 1.2, 1.3], "format": ".1f", "labelOverlap": false, "title": "ICTD,MESI/ICTD,LSCI"}}
          },
          "layer": [
            {
              "data": {"name": "reference"},
              "mark": {"type": "rule", "strokeDash": [7, 5], "strokeWidth": 2, "color": "#222"},
              "encoding": {"x": {"value": 0}, "x2": {"value": "width"}}
            },
            {
              "data": {"name": "ratios"},
              "transform": [{"filter": "datum.panel === 'c'"}],
              "mark": {"type": "point", "shape": "M-1,0L1,0M0,-1L0,1M-0.72,-0.72L0.72,0.72M-0.72,0.72L0.72,-0.72", "filled": false, "size": 170, "strokeWidth": 2.8, "color": "#6699CC", "opacity": 1},
              "encoding": {}
            }
          ]
        }
      ],
      "spacing": 18
    }
  ],
  "spacing": 17,
  "resolve": {"scale": {"color": "shared", "shape": "shared", "stroke": "shared"}, "legend": {"color": "shared", "shape": "shared"}},
  "config": {
    "font": "DejaVu Serif",
    "view": {"stroke": "#222", "strokeWidth": 1.5},
    "axis": {
      "labelFont": "DejaVu Serif", "titleFont": "DejaVu Serif",
      "labelFontSize": 17, "titleFontSize": 18, "titleFontWeight": "normal",
      "labelColor": "#1a1a1a", "titleColor": "#1a1a1a",
      "domainColor": "#222", "domainWidth": 1.5,
      "tickColor": "#222", "tickWidth": 1.3, "tickSize": -5,
      "grid": false, "labelFlush": false, "labelOverlap": false
    },
    "axisX": {"labelPadding": 11, "titlePadding": 5, "titleLineHeight": 25},
    "axisY": {"labelPadding": 9, "titlePadding": 5},
    "legend": {
      "orient": "none", "legendX": 156, "legendY": -65,
      "direction": "horizontal", "columns": 11, "gridAlign": "none",
      "titleFont": "DejaVu Serif", "titleFontSize": 18, "titleFontWeight": "normal", "titleColor": "#1a1a1a",
      "titleAnchor": "middle", "titlePadding": 8, "titleLimit": 600,
      "labelFont": "DejaVu Serif", "labelFontSize": 17, "labelColor": "#1a1a1a",
      "labelOffset": 12, "columnPadding": 12, "symbolSize": 40, "symbolStrokeWidth": 0
    }
  }
}
